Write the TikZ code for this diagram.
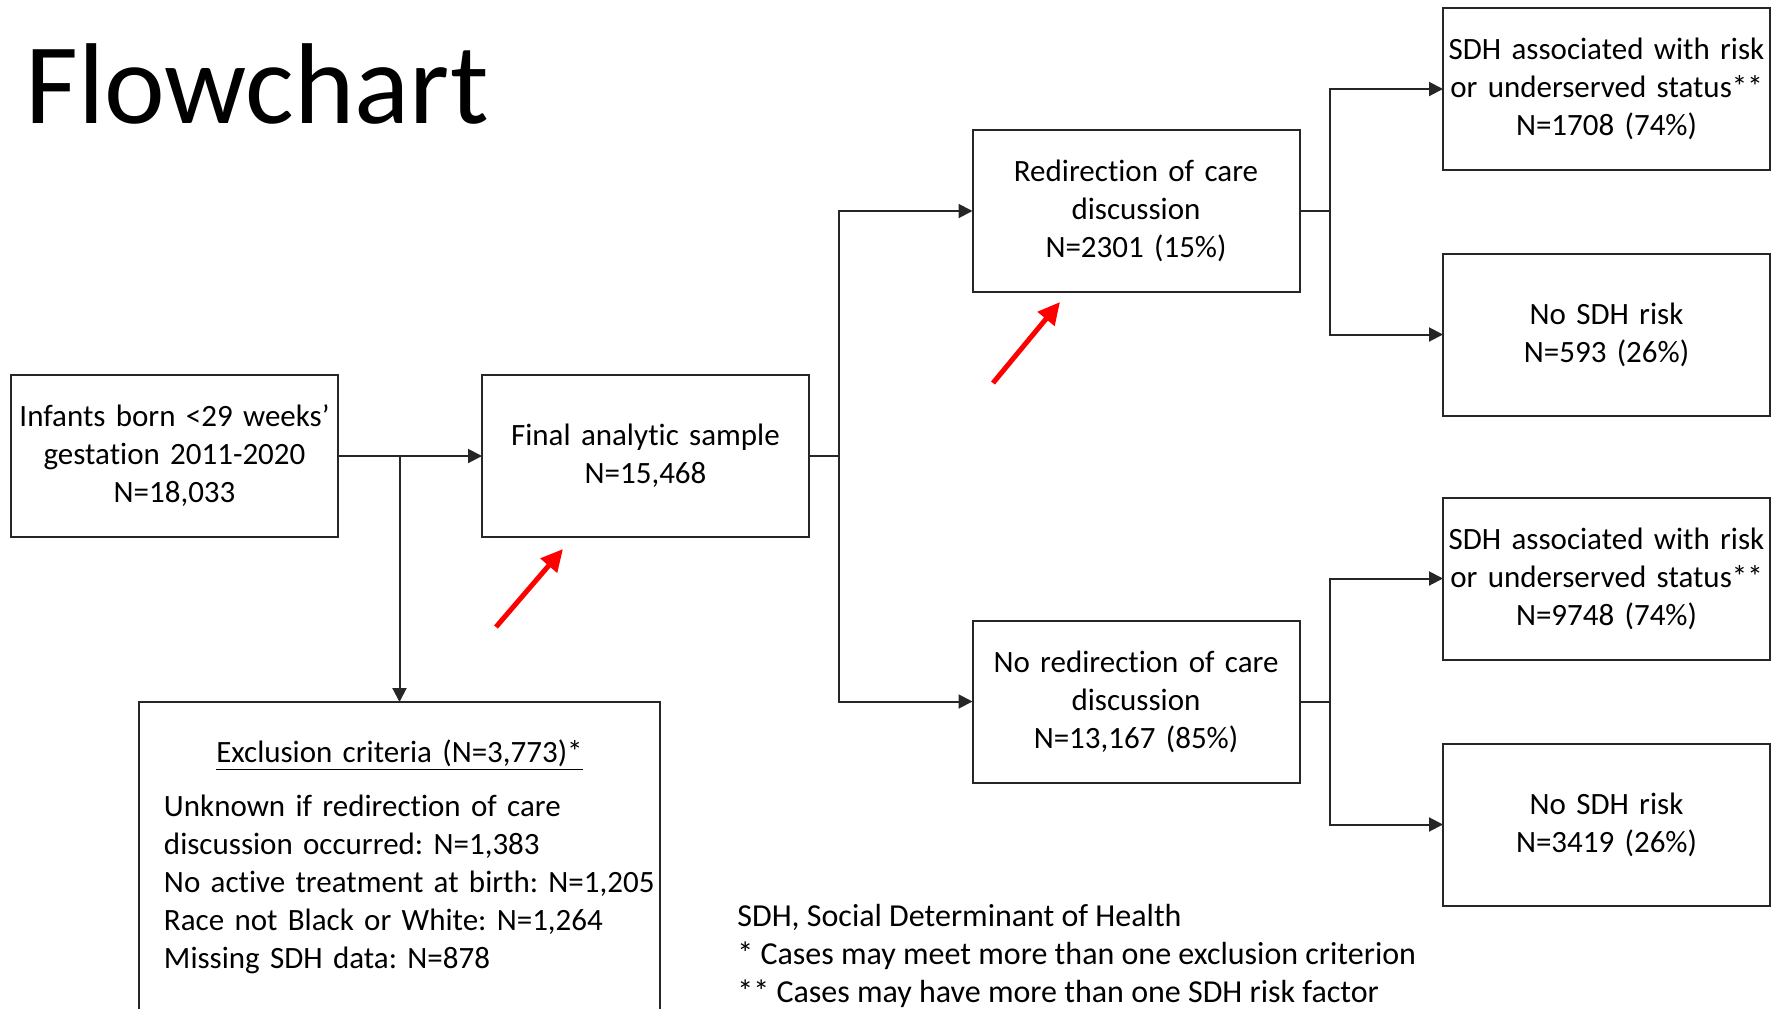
\documentclass[tikz,border=0pt]{standalone}
\usepackage{fontspec}
\setmainfont{Carlito}[Ligatures=NoCommon]
\usetikzlibrary{arrows.meta, positioning, calc}
\definecolor{edge}{RGB}{38,38,38}
\frenchspacing

\begin{document}
\begin{tikzpicture}[
    node distance=72pt,
    font=\fontsize{15.5}{19}\selectfont,
    stage/.style={rectangle, draw=edge, line width=1pt, outer sep=0pt, text width=160pt, inner xsep=1.75pt, align=center, minimum height=81pt},
    excl/.style={rectangle, draw=edge, line width=1pt, outer sep=0pt, text width=260.5pt, inner xsep=0pt, minimum height=155pt},
    link/.style={-{Triangle[length=7pt, width=7pt]}, draw=edge, line width=1pt},
    stub/.style={draw=edge, line width=1pt},
    pointer/.style={-{Triangle[length=11pt, width=10.5pt]}, red, line width=2.5pt}
]
\useasboundingbox (0,0) rectangle (892.5pt,-504pt);

\node[anchor=base west, inner sep=0pt, font=\fontsize{57.5}{69}\selectfont] (title) at (12.5pt,-61.5pt) {Flowchart};

\node[stage] (infants) at (87.25pt,-228pt) {Infants born <29 weeks’\\gestation 2011-2020\\N=18,033};
\node[stage, right=72pt of infants] (final) {Final analytic sample\\N=15,468};

\node[stage, right=81.75pt of final, yshift=122.5pt] (redir) {Redirection of care\\discussion\\N=2301 (15\%)};
\node[stage, right=81.75pt of final, yshift=-122.75pt] (noredir) {No redirection of care\\discussion\\N=13,167 (85\%)};

\node[stage, right=71.75pt of redir, yshift=61pt] (riskA) {SDH associated with risk\\or underserved status**\\N=1708 (74\%)};
\node[stage, right=71.75pt of redir, yshift=-61.75pt] (norskA) {No SDH risk\\N=593 (26\%)};
\node[stage, right=71.75pt of noredir, yshift=61.5pt] (riskB) {SDH associated with risk\\or underserved status**\\N=9748 (74\%)};
\node[stage, right=71.75pt of noredir, yshift=-61.5pt] (norskB) {No SDH risk\\N=3419 (26\%)};

\node[excl, below=82.5pt of infants, xshift=112.5pt] (excl) {%
{\centering\underline{Exclusion criteria (N=3,773)*}\par}\vspace{8pt}%
{\raggedright\leftskip=12.5pt Unknown if redirection of care\\discussion occurred: N=1,383\\No active treatment at birth: N=1,205\\Race not Black or White: N=1,264\\Missing SDH data: N=878\par}};

\node[anchor=west, align=left, inner sep=0pt, font=\fontsize{16}{19}\selectfont] (notes) at (368.5pt,-478pt) {SDH, Social Determinant of Health\\* Cases may meet more than one exclusion criterion\\** Cases may have more than one SDH risk factor};

\draw[link] (infants) -- (final);
\draw[link] (excl.north |- infants.east) -- (excl.north);

\coordinate (splitA) at ($(final.east)+(15pt,0)$);
\draw[stub] (final.east) -- (splitA);
\draw[link] (splitA) |- (redir.west);
\draw[link] (splitA) |- (noredir.west);

\coordinate (splitB) at ($(redir.east)+(15.25pt,0)$);
\draw[stub] (redir.east) -- (splitB);
\draw[link] (splitB) |- (riskA.west);
\draw[link] (splitB) |- (norskA.west);

\coordinate (splitC) at ($(noredir.east)+(15.25pt,0)$);
\draw[stub] (noredir.east) -- (splitC);
\draw[link] (splitC) |- (riskB.west);
\draw[link] (splitC) |- (norskB.west);

\coordinate (tailA) at ($(final.south west)+(7pt,-45pt)$);
\coordinate (tipA) at ($(final.south west)+(40.5pt,-6pt)$);
\draw[pointer] (tailA) -- (tipA);
\coordinate (tailB) at ($(redir.south west)+(10.25pt,-45.5pt)$);
\coordinate (tipB) at ($(redir.south west)+(43.75pt,-5pt)$);
\draw[pointer] (tailB) -- (tipB);

\end{tikzpicture}
\end{document}
